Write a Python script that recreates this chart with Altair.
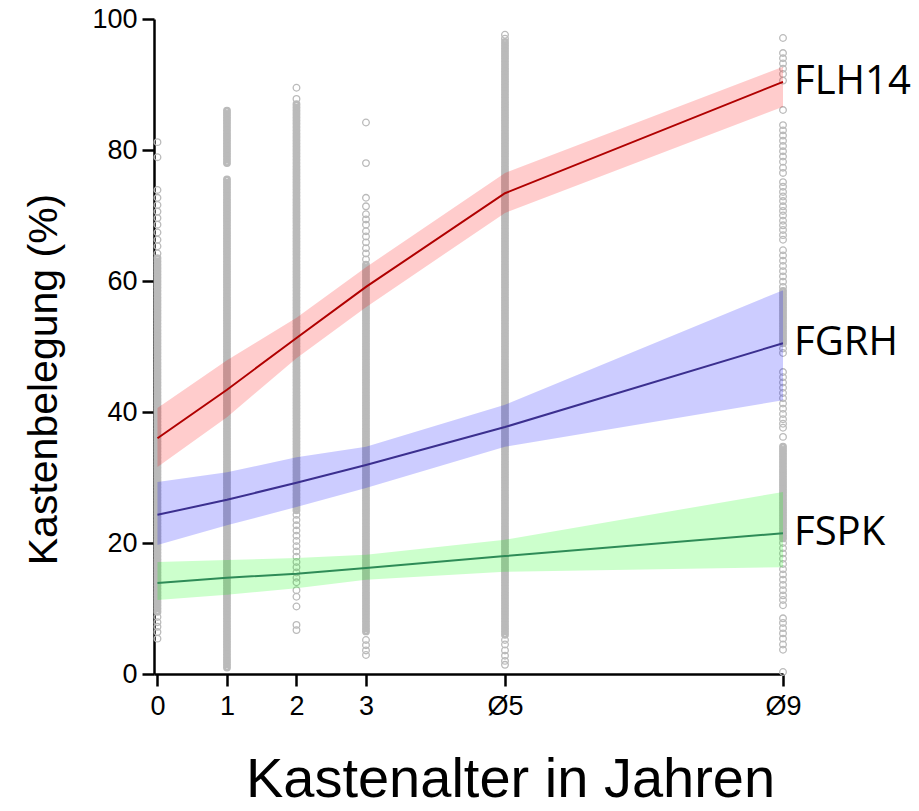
import altair as alt
import pandas as pd

# ---------------- data ----------------
x_levels = [0, 1, 2, 3, 5, 9]
x_tick_labels = ["0", "1", "2", "3", "Ø5", "Ø9"]
y_ticks = [0, 20, 40, 60, 80, 100]

series_names = ["FLH14", "FGRH", "FSPK"]

flh14_fit = [36.0, 43.4, 51.3, 59.1, 73.4, 90.4]
flh14_lo = [31.6, 39.2, 48.2, 56.0, 70.4, 86.6]
flh14_hi = [40.6, 47.9, 54.4, 62.1, 76.5, 92.7]

fgrh_fit = [24.3, 26.6, 29.2, 31.9, 37.7, 50.5]
fgrh_lo = [19.7, 22.7, 25.5, 28.4, 34.7, 41.8]
fgrh_hi = [29.3, 30.8, 33.1, 34.7, 41.1, 58.6]

fspk_fit = [13.9, 14.7, 15.3, 16.2, 18.0, 21.5]
fspk_lo = [11.3, 12.1, 13.1, 14.4, 15.6, 16.3]
fspk_hi = [17.1, 17.4, 17.7, 18.2, 20.5, 27.8]

# observed box occupancy (%) per box age: isolated points ("sparse") and
# tightly packed runs of points ("dense")
obs_age0_sparse = [81.2, 78.9, 73.9, 72.7, 71.6, 70.6, 69.6, 68.6, 67.4, 66.3, 65.3, 64.2,
                   8.7, 7.9, 7.2, 6.4, 5.4]
obs_age0_dense = [63.5, 63, 62.5, 62, 61.5, 61, 60.5, 60, 59.5, 59, 58.5, 58, 57.5, 57,
                  56.5, 56, 55.5, 55, 54.5, 54, 53.5, 53, 52.5, 52, 51.5, 51, 50.5, 50,
                  49.5, 49, 48.5, 48, 47.5, 47, 46.5, 46, 45.5, 45, 44.5, 44, 43.5, 43,
                  42.5, 42, 41.5, 41, 40.5, 40, 39.5, 39, 38.5, 38, 37.5, 37, 36.5, 36,
                  35.5, 35, 34.5, 34, 33.5, 33, 32.5, 32, 31.5, 31, 30.5, 30, 29.5, 29,
                  28.5, 28, 27.5, 27, 26.5, 26, 25.5, 25, 24.5, 24, 23.5, 23, 22.5, 22,
                  21.5, 21, 20.5, 20, 19.5, 19, 18.5, 18, 17.5, 17, 16.5, 16, 15.5, 15,
                  14.5, 14, 13.5, 13, 12.5, 12, 11.5, 11, 10.5, 10, 9.5]

obs_age1_sparse = []
obs_age1_dense = [86, 85.5, 85, 84.5, 84, 83.5, 83, 82.5, 82, 81.5, 81, 80.5, 80, 79.5,
                  79, 78.5, 78,
                  75.5, 75, 74.5, 74, 73.5, 73, 72.5, 72, 71.5, 71, 70.5, 70,
                  69.5, 69, 68.5, 68, 67.5, 67, 66.5, 66, 65.5, 65, 64.5, 64, 63.5, 63,
                  62.5, 62, 61.5, 61, 60.5, 60, 59.5, 59, 58.5, 58, 57.5, 57, 56.5, 56,
                  55.5, 55, 54.5, 54, 53.5, 53, 52.5, 52, 51.5, 51, 50.5, 50, 49.5, 49,
                  48.5, 48, 47.5, 47, 46.5, 46, 45.5, 45, 44.5, 44, 43.5, 43, 42.5, 42,
                  41.5, 41, 40.5, 40, 39.5, 39, 38.5, 38, 37.5, 37, 36.5, 36, 35.5, 35,
                  34.5, 34, 33.5, 33, 32.5, 32, 31.5, 31, 30.5, 30, 29.5, 29, 28.5, 28,
                  27.5, 27, 26.5, 26, 25.5, 25, 24.5, 24, 23.5, 23, 22.5, 22, 21.5, 21,
                  20.5, 20, 19.5, 19, 18.5, 18, 17.5, 17, 16.5, 16, 15.5, 15, 14.5, 14,
                  13.5, 13, 12.5, 12, 11.5, 11, 10.5, 10, 9.5, 9, 8.5, 8, 7.5, 7, 6.5, 6,
                  5.5, 5, 4.5, 4, 3.5, 3, 2.5, 2, 1.5, 1.0]

obs_age2_sparse = [89.5, 87.8, 24.3, 23.5, 22.7, 21.9, 21.1, 20.3, 19.5, 18.7, 17.9,
                   17.1, 16.3, 15.5, 14.7, 14.0, 12.8, 11.8, 10.3, 7.5, 6.7]
obs_age2_dense = [87, 86.5, 86, 85.5, 85, 84.5, 84, 83.5, 83, 82.5, 82, 81.5, 81,
                  80.5, 80, 79.5, 79, 78.5, 78, 77.5, 77, 76.5, 76, 75.5, 75, 74.5, 74,
                  73.5, 73, 72.5, 72, 71.5, 71, 70.5, 70, 69.5, 69, 68.5, 68, 67.5, 67,
                  66.5, 66, 65.5, 65, 64.5, 64, 63.5, 63, 62.5, 62, 61.5, 61, 60.5, 60,
                  59.5, 59, 58.5, 58, 57.5, 57, 56.5, 56, 55.5, 55, 54.5, 54, 53.5, 53,
                  52.5, 52, 51.5, 51, 50.5, 50, 49.5, 49, 48.5, 48, 47.5, 47, 46.5, 46,
                  45.5, 45, 44.5, 44, 43.5, 43, 42.5, 42, 41.5, 41, 40.5, 40, 39.5, 39,
                  38.5, 38, 37.5, 37, 36.5, 36, 35.5, 35, 34.5, 34, 33.5, 33, 32.5, 32,
                  31.5, 31, 30.5, 30, 29.5, 29, 28.5, 28, 27.5, 27, 26.5, 26, 25.5, 25]

obs_age3_sparse = [84.2, 78.0, 72.7, 71.4, 70.2, 69.4, 68.6, 67.6, 66.8, 65.9, 65.0,
                   64.2, 63.3, 5.2, 4.4, 3.6, 2.9]
obs_age3_dense = [62.5, 62, 61.5, 61, 60.5, 60, 59.5, 59, 58.5, 58, 57.5, 57, 56.5, 56,
                  55.5, 55, 54.5, 54, 53.5, 53, 52.5, 52, 51.5, 51, 50.5, 50, 49.5, 49,
                  48.5, 48, 47.5, 47, 46.5, 46, 45.5, 45, 44.5, 44, 43.5, 43, 42.5, 42,
                  41.5, 41, 40.5, 40, 39.5, 39, 38.5, 38, 37.5, 37, 36.5, 36, 35.5, 35,
                  34.5, 34, 33.5, 33, 32.5, 32, 31.5, 31, 30.5, 30, 29.5, 29, 28.5, 28,
                  27.5, 27, 26.5, 26, 25.5, 25, 24.5, 24, 23.5, 23, 22.5, 22, 21.5, 21,
                  20.5, 20, 19.5, 19, 18.5, 18, 17.5, 17, 16.5, 16, 15.5, 15, 14.5, 14,
                  13.5, 13, 12.5, 12, 11.5, 11, 10.5, 10, 9.5, 9, 8.5, 8, 7.5, 7, 6.5]

obs_age5_sparse = [97.6, 97.0, 5.2, 4.5, 3.6, 2.8, 2.0, 1.4]
obs_age5_dense = [96.5, 96, 95.5, 95, 94.5, 94, 93.5, 93, 92.5, 92, 91.5, 91,
                  90.5, 90, 89.5, 89, 88.5, 88, 87.5, 87, 86.5, 86, 85.5, 85, 84.5, 84,
                  83.5, 83, 82.5, 82, 81.5, 81, 80.5, 80, 79.5, 79, 78.5, 78, 77.5, 77,
                  76.5, 76, 75.5, 75, 74.5, 74, 73.5, 73, 72.5, 72, 71.5, 71, 70.5, 70,
                  69.5, 69, 68.5, 68, 67.5, 67, 66.5, 66, 65.5, 65, 64.5, 64, 63.5, 63,
                  62.5, 62, 61.5, 61, 60.5, 60, 59.5, 59, 58.5, 58, 57.5, 57, 56.5, 56,
                  55.5, 55, 54.5, 54, 53.5, 53, 52.5, 52, 51.5, 51, 50.5, 50, 49.5, 49,
                  48.5, 48, 47.5, 47, 46.5, 46, 45.5, 45, 44.5, 44, 43.5, 43, 42.5, 42,
                  41.5, 41, 40.5, 40, 39.5, 39, 38.5, 38, 37.5, 37, 36.5, 36, 35.5, 35,
                  34.5, 34, 33.5, 33, 32.5, 32, 31.5, 31, 30.5, 30, 29.5, 29, 28.5, 28,
                  27.5, 27, 26.5, 26, 25.5, 25, 24.5, 24, 23.5, 23, 22.5, 22, 21.5, 21,
                  20.5, 20, 19.5, 19, 18.5, 18, 17.5, 17, 16.5, 16, 15.5, 15, 14.5, 14,
                  13.5, 13, 12.5, 12, 11.5, 11, 10.5, 10, 9.5, 9, 8.5, 8, 7.5, 7, 6.5, 6]

obs_age9_sparse = [97.1, 94.8, 94.0, 93.2, 92.4, 91.6, 90.6, 86.1,
                   83.8, 83.0, 82.2, 81.4, 80.6, 79.8, 79.0, 78.2, 77.3, 76.5,
                   75.1, 74.4, 73.6, 72.9, 72.2, 71.4, 70.7, 70.0, 69.2, 68.5, 67.8, 67.0,
                   66.3, 64.7, 63.9, 63.1, 62.3, 61.5, 60.7, 59.9, 59.1,
                   49.7, 49.0, 46.1, 45.3, 44.5, 43.7, 42.9, 42.1, 41.3, 40.5, 39.7, 38.9,
                   38.2, 37.6, 36.2, 20.0, 19.2, 18.4, 17.6, 16.8, 16.0, 15.2, 14.4, 13.6,
                   12.8, 12.0, 11.3, 10.5, 8.5, 7.8, 7.0, 6.2, 5.4, 4.5, 3.7, 0.3]
obs_age9_dense = [58.5, 58, 57.5, 57, 56.5, 56, 55.5, 55, 54.5, 54, 53.5, 53, 52.5, 52,
                  51.5, 51, 50.5,
                  34.7, 34.2, 33.7, 33.2, 32.7, 32.2, 31.7, 31.2, 30.7, 30.2, 29.7, 29.2,
                  28.7, 28.2, 27.7, 27.2, 26.7, 26.2, 25.7, 25.2, 24.7, 24.2, 23.7, 23.2,
                  22.7, 22.2, 21.7, 21.2, 20.7]

# ---------------- tables built from the lists ----------------
sparse_cols = [obs_age0_sparse, obs_age1_sparse, obs_age2_sparse, obs_age3_sparse,
               obs_age5_sparse, obs_age9_sparse]
dense_cols = [obs_age0_dense, obs_age1_dense, obs_age2_dense, obs_age3_dense,
              obs_age5_dense, obs_age9_dense]


def to_df(cols):
    rows = []
    for xv, vals in zip(x_levels, cols):
        for v in vals:
            rows.append({"alter": xv, "belegung": v})
    return pd.DataFrame(rows)


sparse_df = to_df(sparse_cols)
dense_df = to_df(dense_cols)

fits = [flh14_fit, fgrh_fit, fspk_fit]
los = [flh14_lo, fgrh_lo, fspk_lo]
his = [flh14_hi, fgrh_hi, fspk_hi]
fit_rows = []
for name, f_list, l_list, h_list in zip(series_names, fits, los, his):
    for xv, f, l, h in zip(x_levels, f_list, l_list, h_list):
        fit_rows.append({"serie": name, "alter": xv, "fit": f, "lo": l, "hi": h})
fit_df = pd.DataFrame(fit_rows)
label_df = fit_df[fit_df["alter"] == x_levels[-1]]

# ---------------- styling ----------------
band_colors = ["#ff0000", "#0000ff", "#00ff00"]
line_colors = ["#b00000", "#3b2f8f", "#2e8b57"]
point_gray = "#bababa"

label_expr = "".join(
    f"datum.value == {v} ? '{t}' : " for v, t in zip(x_levels, x_tick_labels)
) + "datum.label"

xscale = alt.Scale(domain=[-0.05, 9], nice=False, zero=False)
yscale = alt.Scale(domain=[0, 100], nice=False, zero=False)

x_axis = alt.Axis(
    values=x_levels, labelExpr=label_expr, grid=False,
    domainColor="black", domainWidth=2.5, tickColor="black", tickWidth=2.5,
    tickSize=12, labelFont="Liberation Sans", labelFontSize=27, labelColor="black",
    labelPadding=7, labelFlush=False, labelOverlap=False,
    title="Kastenalter in Jahren", titleFont="Liberation Sans", titleFontSize=56,
    titleFontWeight="normal", titleColor="black",
    titleX=356, titleY=122, titleAlign="center", titleBaseline="alphabetic",
)
y_axis = alt.Axis(
    values=y_ticks, grid=False,
    domainColor="black", domainWidth=2.5, tickColor="black", tickWidth=2.5,
    tickSize=12, labelFont="Liberation Sans", labelFontSize=27, labelColor="black",
    labelPadding=5, labelFlush=False, labelOverlap=False,
    title="Kastenbelegung (%)", titleFont="Liberation Sans", titleFontSize=41,
    titleFontWeight="normal", titleColor="black",
    titleX=-98, titleY=360, titleAlign="center", titleBaseline="alphabetic",
    titleAngle=270,
)

sparse_pts = alt.Chart(sparse_df).mark_point(
    shape="circle", filled=False, color=point_gray, size=44, strokeWidth=1.3, opacity=1
).encode(
    x=alt.X("alter:Q", scale=xscale, axis=x_axis),
    y=alt.Y("belegung:Q", scale=yscale, axis=y_axis),
)

dense_pts = alt.Chart(dense_df).mark_point(
    shape="circle", filled=False, color=point_gray, size=26, strokeWidth=2.8, opacity=1
).encode(
    x=alt.X("alter:Q", scale=xscale),
    y=alt.Y("belegung:Q", scale=yscale),
)

bands = alt.Chart(fit_df).mark_area(opacity=0.2).encode(
    x=alt.X("alter:Q", scale=xscale),
    y=alt.Y("lo:Q", scale=yscale),
    y2="hi:Q",
    fill=alt.Fill("serie:N", scale=alt.Scale(domain=series_names, range=band_colors), legend=None),
)

lines = alt.Chart(fit_df).mark_line(strokeWidth=2).encode(
    x=alt.X("alter:Q", scale=xscale),
    y=alt.Y("fit:Q", scale=yscale),
    stroke=alt.Stroke("serie:N", scale=alt.Scale(domain=series_names, range=line_colors), legend=None),
)

labels = alt.Chart(label_df).mark_text(
    align="left", baseline="middle", dx=11, font="Open Sans", fontSize=40, color="black"
).encode(
    x=alt.X("alter:Q", scale=xscale),
    y=alt.Y("fit:Q", scale=yscale),
    text="serie:N",
)

chart = alt.layer(sparse_pts, dense_pts, bands, lines, labels).properties(
    width=629, height=655,
    autosize=alt.AutoSizeParams(type="none"),
    padding={"left": 154, "top": 19, "right": 136, "bottom": 137},
    background="white",
).configure_view(stroke=None)

chart.save("out.html", embed_options={"renderer": "svg", "actions": False})
